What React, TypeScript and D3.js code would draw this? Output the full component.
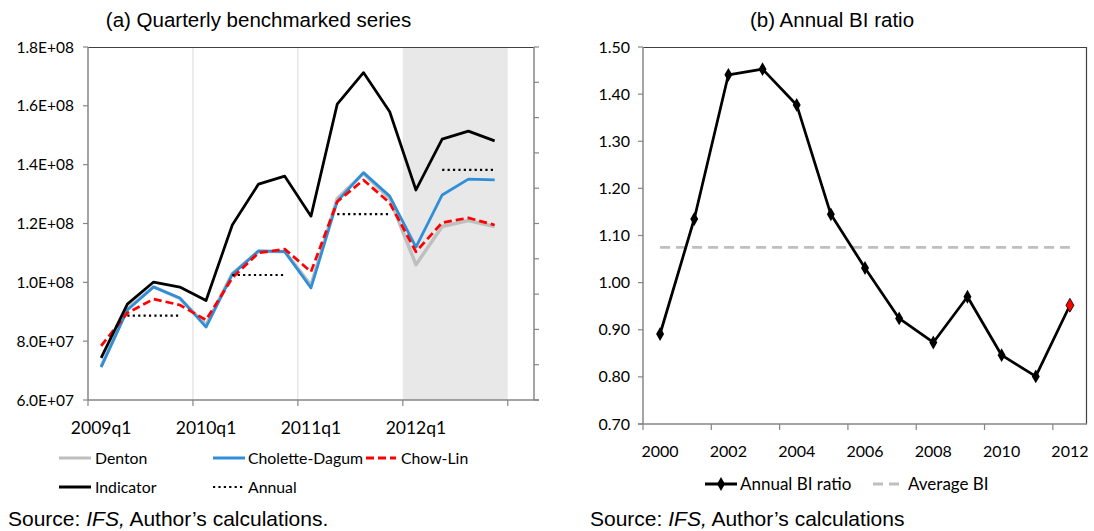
import React from "react";
import * as d3 from "d3";

const quarters = ["2009q1","2009q2","2009q3","2009q4","2010q1","2010q2","2010q3","2010q4","2011q1","2011q2","2011q3","2011q4","2012q1","2012q2","2012q3","2012q4"];
const denton = [7.15e7, 9.1e7, 9.85e7, 9.45e7, 8.55e7, 1.03e8, 1.105e8, 1.105e8, 9.9e7, 1.285e8, 1.37e8, 1.285e8, 1.06e8, 1.19e8, 1.21e8, 1.19e8];
const choletteDagum = [7.12e7, 9.06e7, 9.84e7, 9.47e7, 8.48e7, 1.027e8, 1.107e8, 1.104e8, 9.81e7, 1.275e8, 1.373e8, 1.293e8, 1.12e8, 1.297e8, 1.351e8, 1.348e8];
const chowLin = [7.84e7, 8.96e7, 9.43e7, 9.23e7, 8.72e7, 1.015e8, 1.1e8, 1.113e8, 1.036e8, 1.274e8, 1.348e8, 1.27e8, 1.104e8, 1.203e8, 1.219e8, 1.195e8];
const indicator = [7.43e7, 9.26e7, 1.001e8, 9.84e7, 9.38e7, 1.195e8, 1.334e8, 1.361e8, 1.225e8, 1.606e8, 1.713e8, 1.58e8, 1.314e8, 1.487e8, 1.514e8, 1.481e8];
const annual = [null, 8.87e7, 8.87e7, 8.87e7, null, 1.025e8, 1.025e8, 1.025e8, null, 1.232e8, 1.232e8, 1.232e8, null, 1.382e8, 1.382e8, 1.382e8];
const leftTicks = [6e7, 8e7, 1e8, 1.2e8, 1.4e8, 1.6e8, 1.8e8];
const leftTickLabels = ["6.0E+07", "8.0E+07", "1.0E+08", "1.2E+08", "1.4E+08", "1.6E+08", "1.8E+08"];
const xLabelQuarters = ["2009q1", "2010q1", "2011q1", "2012q1"];
const shadedFrom = "2012q1";

const years = [2000, 2001, 2002, 2003, 2004, 2005, 2006, 2007, 2008, 2009, 2010, 2011, 2012];
const biRatio = [0.891, 1.135, 1.441, 1.453, 1.377, 1.145, 1.031, 0.924, 0.873, 0.970, 0.846, 0.801, 0.952];
const averageBI = 1.075;
const rightTicks = [0.7, 0.8, 0.9, 1.0, 1.1, 1.2, 1.3, 1.4, 1.5];
const yearLabels = [2000, 2002, 2004, 2006, 2008, 2010, 2012];

const TICK_FONT = "Lato, 'Open Sans', sans-serif";
const TITLE_FONT = "'Liberation Sans', Arial, sans-serif";
const AXIS = "#868686";
const FRAME = "#404040";

function LeftChart() {
  const L = 88, R = 534, T = 47, B = 400;
  const slots = quarters.length + 1;
  const x = d3.scaleLinear().domain([0, slots]).range([L, R]);
  const y = d3.scaleLinear().domain([6e7, 1.8e8]).range([B, T]);
  const cx = (i: number) => x(i + 0.5);
  const line = d3.line<number | null>().defined((d) => d != null).x((_, i) => cx(i)).y((d) => y(d as number));
  const shadeI = quarters.indexOf(shadedFrom);
  const boundaryTicks = d3.range(0, slots, 4);
  const rightTicksArr = d3.range(0, 11).map((k) => T + (k * (B - T)) / 10);
  return (
    <g>
      <text x={258.5} y={27} textAnchor="middle" fontFamily={TITLE_FONT} fontSize={20.5} fill="#000">(a) Quarterly benchmarked series</text>
      <rect x={x(shadeI)} y={T} width={x(quarters.length) - x(shadeI)} height={B - T} fill="#e8e8e8" />
      {boundaryTicks.filter((t) => t > 0 && t < shadeI).map((t) => (
        <line key={t} x1={x(t)} x2={x(t)} y1={T} y2={B} stroke="#d9d9d9" strokeWidth={1} />
      ))}
      <line x1={L} x2={R} y1={T + 0.5} y2={T + 0.5} stroke={FRAME} strokeWidth={1.2} />
      <line x1={L} x2={L} y1={T} y2={B} stroke={AXIS} strokeWidth={1.5} />
      <line x1={R} x2={R} y1={T} y2={B} stroke={AXIS} strokeWidth={1.5} />
      <line x1={L} x2={R + 5} y1={B} y2={B} stroke={AXIS} strokeWidth={1.5} />
      {leftTicks.map((t, i) => (
        <g key={t}>
          <line x1={L - 5} x2={L} y1={y(t)} y2={y(t)} stroke={AXIS} strokeWidth={1.2} />
          <text x={74} y={y(t) + 5.5} textAnchor="end" fontFamily={TICK_FONT} fontSize={15.5} fill="#000">{leftTickLabels[i]}</text>
        </g>
      ))}
      {rightTicksArr.map((ty, k) => (
        <line key={k} x1={R} x2={R + 5} y1={ty} y2={ty} stroke={AXIS} strokeWidth={1.2} />
      ))}
      {boundaryTicks.map((t) => (
        <line key={t} x1={x(t)} x2={x(t)} y1={B} y2={B + 6} stroke={AXIS} strokeWidth={1.2} />
      ))}
      {xLabelQuarters.map((q) => (
        <text key={q} x={cx(quarters.indexOf(q))} y={433.5} textAnchor="middle" fontFamily={TICK_FONT} fontSize={17.5} fill="#000">{q}</text>
      ))}
      <path d={line(denton) || ""} fill="none" stroke="#bfbfbf" strokeWidth={3.5} strokeLinejoin="round" />
      <path d={line(choletteDagum) || ""} fill="none" stroke="#2e8ed8" strokeWidth={2.75} strokeLinejoin="round" />
      <path d={line(chowLin) || ""} fill="none" stroke="#ff0000" strokeWidth={2.75} strokeDasharray="8,4" strokeLinejoin="round" />
      <path d={line(indicator) || ""} fill="none" stroke="#000" strokeWidth={2.75} strokeLinejoin="round" />
      <path d={line(annual) || ""} fill="none" stroke="#000" strokeWidth={2.2} strokeDasharray="2.2,3.2" />
      {/* legend */}
      <g fontFamily={TICK_FONT} fontSize={15.8} fill="#000">
        <line x1={59} x2={91} y1={458} y2={458} stroke="#bfbfbf" strokeWidth={3} />
        <text x={95} y={464}>Denton</text>
        <line x1={213} x2={245} y1={458} y2={458} stroke="#2e8ed8" strokeWidth={3} />
        <text x={248} y={464}>Cholette-Dagum</text>
        <line x1={366} x2={396} y1={458} y2={458} stroke="#ff0000" strokeWidth={3} strokeDasharray="8,4" />
        <text x={401} y={464}>Chow-Lin</text>
        <line x1={59} x2={91} y1={487} y2={487} stroke="#000" strokeWidth={3} />
        <text x={95} y={493}>Indicator</text>
        <line x1={213} x2={245} y1={487} y2={487} stroke="#000" strokeWidth={2.2} strokeDasharray="2.2,3.2" />
        <text x={248} y={493}>Annual</text>
      </g>
      <text x={8} y={526} fontFamily={TITLE_FONT} fontSize={21} fill="#000">Source: <tspan fontStyle="italic">IFS,</tspan> Author’s calculations.</text>
    </g>
  );
}

function RightChart() {
  const L = 643, R = 1087, T = 47, B = 424;
  const x = d3.scaleBand<number>().domain(years).range([L, R]).padding(0);
  const y = d3.scaleLinear().domain([0.7, 1.5]).range([B, T]);
  const cx = (yr: number) => (x(yr) as number) + x.bandwidth() / 2;
  const line = d3.line<number>().x((_, i) => cx(years[i])).y((d) => y(d));
  const diamond = d3.symbol().type(d3.symbolDiamond).size(55)();
  const boundaries = d3.range(0, years.length + 1, 2).map((k) => L + k * x.bandwidth());
  return (
    <g>
      <text x={832} y={27} textAnchor="middle" fontFamily={TITLE_FONT} fontSize={20.5} fill="#000">(b) Annual BI ratio</text>
      <line x1={L} x2={R} y1={T + 0.5} y2={T + 0.5} stroke={FRAME} strokeWidth={1.2} />
      <line x1={R - 0.5} x2={R - 0.5} y1={T} y2={B} stroke={FRAME} strokeWidth={1.2} />
      <line x1={L} x2={L} y1={T} y2={B} stroke={AXIS} strokeWidth={1.5} />
      <line x1={L - 5} x2={R} y1={B} y2={B} stroke={AXIS} strokeWidth={1.5} />
      {rightTicks.map((t) => (
        <g key={t}>
          <line x1={L - 5} x2={L} y1={y(t)} y2={y(t)} stroke={AXIS} strokeWidth={1.2} />
          <text x={630} y={y(t) + 5.5} textAnchor="end" fontFamily={TICK_FONT} fontSize={16} fill="#000">{d3.format(".2f")(t)}</text>
        </g>
      ))}
      {boundaries.map((bx, k) => (
        <line key={k} x1={bx} x2={bx} y1={B} y2={B + 6} stroke={AXIS} strokeWidth={1.2} />
      ))}
      {yearLabels.map((yr) => (
        <text key={yr} x={cx(yr)} y={456.5} textAnchor="middle" fontFamily={TICK_FONT} fontSize={16} fill="#000">{yr}</text>
      ))}
      <line x1={cx(years[0])} x2={cx(years[years.length - 1])} y1={y(averageBI)} y2={y(averageBI)} stroke="#bfbfbf" strokeWidth={2.75} strokeDasharray="10,6" />
      <path d={line(biRatio) || ""} fill="none" stroke="#000" strokeWidth={2.75} strokeLinejoin="round" />
      {biRatio.map((v, i) => (
        <path key={i} d={diamond || ""} transform={`translate(${cx(years[i])},${y(v)})`} fill={i === biRatio.length - 1 ? "#ff0000" : "#000"} stroke="#000" strokeWidth={i === biRatio.length - 1 ? 0.8 : 0} />
      ))}
      <g fontFamily={TICK_FONT} fontSize={17} fill="#000">
        <line x1={705} x2={737} y1={484} y2={484} stroke="#000" strokeWidth={3} />
        <path d={diamond || ""} transform="translate(721,484)" fill="#000" />
        <text x={740} y={490}>Annual BI ratio</text>
        <line x1={873} x2={904} y1={484} y2={484} stroke="#bfbfbf" strokeWidth={3} strokeDasharray="10,6" />
        <text x={908} y={490}>Average BI</text>
      </g>
      <text x={590} y={526} fontFamily={TITLE_FONT} fontSize={21} fill="#000">Source: <tspan fontStyle="italic">IFS,</tspan> Author’s calculations</text>
    </g>
  );
}

export default function App() {
  return (
    <svg width={1094} height={531} style={{ position: "absolute", left: 0, top: 0, background: "#fff" }}>
      <rect x={0} y={0} width={1094} height={531} fill="#fff" />
      <LeftChart />
      <RightChart />
    </svg>
  );
}
